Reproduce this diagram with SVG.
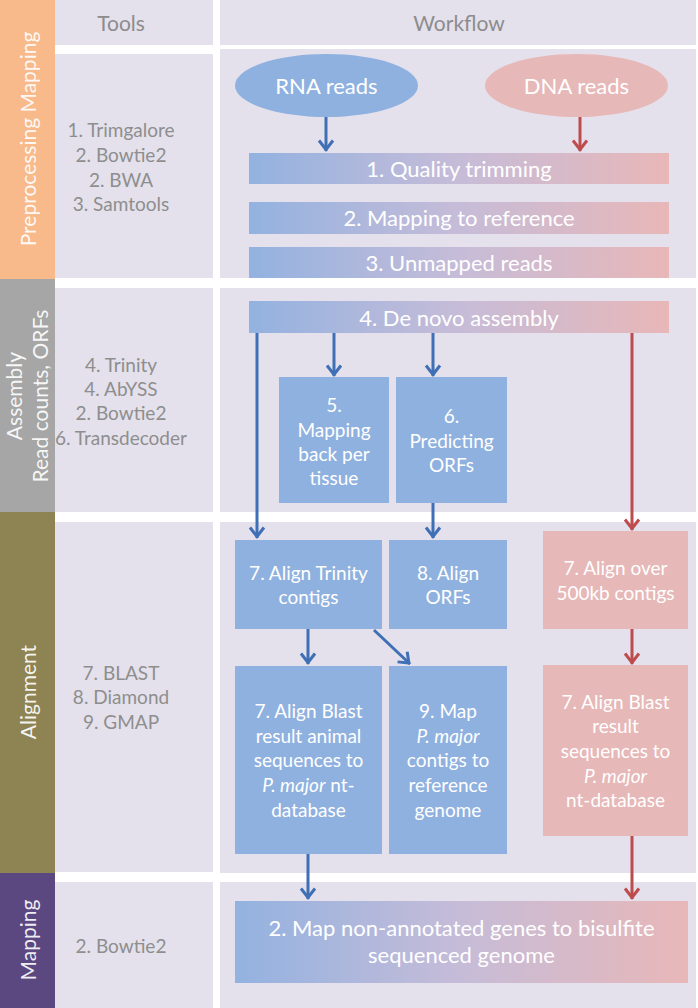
<svg xmlns="http://www.w3.org/2000/svg" width="698" height="1008" viewBox="0 0 698 1008">
<defs>
<style>
text{font-family:Lato,"Liberation Sans",sans-serif;}
.cell{fill:#E4E1EC;}
.hdr{font-size:21px;fill:#8C8C8C;text-anchor:middle;}
.tool{font-size:19px;fill:#8E8E8E;text-anchor:middle;}
.band{font-size:21px;fill:#FFFFFF;fill-opacity:0.92;text-anchor:middle;}
.wt{fill:#FFFFFF;text-anchor:middle;}
.big{font-size:22px;}
.box{font-size:19px;}
.blue{fill:#8FB1DF;}
.pink{fill:#E7B8B8;}
.ab{stroke:#3F6FB4;stroke-width:3;fill:none;marker-end:url(#mb);}
.ar{stroke:#BE4C4C;stroke-width:3;fill:none;marker-end:url(#mr);}
</style>
<linearGradient id="grad" x1="0" y1="0" x2="1" y2="0">
<stop offset="0" stop-color="#93B2E0"/>
<stop offset="0.5" stop-color="#C6BCD8"/>
<stop offset="1" stop-color="#E8B7B8"/>
</linearGradient>
<marker id="mb" viewBox="-12 -9 14 18" refX="1.5" refY="0" markerWidth="14" markerHeight="18" markerUnits="userSpaceOnUse" orient="auto">
<path d="M-9,-7 L0,0 L-9,7" fill="none" stroke="#3F6FB4" stroke-width="3"/>
</marker>
<marker id="mr" viewBox="-12 -9 14 18" refX="1.5" refY="0" markerWidth="14" markerHeight="18" markerUnits="userSpaceOnUse" orient="auto">
<path d="M-9,-7 L0,0 L-9,7" fill="none" stroke="#BE4C4C" stroke-width="3"/>
</marker>
</defs>
<rect x="0" y="0" width="698" height="1008" fill="#FFFFFF"/>

<g id="grid">
<rect class="cell" x="55" y="0" width="158" height="45"/>
<rect class="cell" x="220" y="0" width="476" height="45"/>
<rect class="cell" x="55" y="54" width="158" height="224"/>
<rect class="cell" x="220" y="49" width="476" height="229"/>
<rect class="cell" x="55" y="288" width="158" height="224"/>
<rect class="cell" x="220" y="288" width="476" height="224"/>
<rect class="cell" x="55" y="522" width="158" height="350"/>
<rect class="cell" x="220" y="522" width="476" height="351"/>
<rect class="cell" x="55" y="882" width="158" height="126"/>
<rect class="cell" x="220" y="882" width="476" height="126"/>
<text class="hdr" x="121" y="31">Tools</text>
<text class="hdr" x="459" y="31">Workflow</text>
</g>

<g id="band-preprocessing">
<rect x="0" y="0" width="55" height="279" fill="#F8B98B"/>
<text class="band" transform="translate(36,139) rotate(-90)">Preprocessing Mapping</text>
</g>
<g id="band-assembly">
<rect x="0" y="279" width="55" height="233" fill="#A6A6A6"/>
<text class="band" transform="translate(21.5,396) rotate(-90)">Assembly</text>
<text class="band" transform="translate(48,396) rotate(-90)">Read counts, ORFs</text>
</g>
<g id="band-alignment">
<rect x="0" y="512" width="55" height="361" fill="#8D8353"/>
<text class="band" transform="translate(36,692) rotate(-90)">Alignment</text>
</g>
<g id="band-mapping">
<rect x="0" y="873" width="55" height="135" fill="#5C4881"/>
<text class="band" transform="translate(36,940) rotate(-90)">Mapping</text>
</g>

<g id="tools-1">
<text class="tool" x="121" y="137">1. Trimgalore</text>
<text class="tool" x="121" y="162">2. Bowtie2</text>
<text class="tool" x="121" y="187">2. BWA</text>
<text class="tool" x="121" y="211">3. Samtools</text>
</g>
<g id="tools-2">
<text class="tool" x="121" y="372">4. Trinity</text>
<text class="tool" x="121" y="396">4. AbYSS</text>
<text class="tool" x="121" y="420">2. Bowtie2</text>
<text class="tool" x="121" y="445">6. Transdecoder</text>
</g>
<g id="tools-3">
<text class="tool" x="121" y="680">7. BLAST</text>
<text class="tool" x="121" y="704">8. Diamond</text>
<text class="tool" x="121" y="729">9. GMAP</text>
</g>
<g id="tools-4">
<text class="tool" x="121" y="953">2. Bowtie2</text>
</g>

<g id="connectors">
<path class="ab" d="M326,117 V151"/>
<path class="ar" d="M580,117 V151"/>
<path class="ab" d="M257,333 V538"/>
<path class="ab" d="M334,333 V376"/>
<path class="ab" d="M433,333 V376"/>
<path class="ar" d="M632,333 V530"/>
<path class="ab" d="M433,503 V538"/>
<path class="ab" d="M308,629 V664"/>
<path class="ab" d="M374,630 L410,664"/>
<path class="ar" d="M632,629 V664"/>
<path class="ab" d="M308,854 V899"/>
<path class="ar" d="M632,836 V899"/>
</g>

<g id="rna-reads">
<ellipse cx="326.5" cy="85.5" rx="91.5" ry="31.5" class="blue"/>
<text class="wt big" x="326.5" y="94">RNA reads</text>
</g>
<g id="dna-reads">
<ellipse cx="576.5" cy="85.5" rx="91.5" ry="31.5" class="pink"/>
<text class="wt big" x="576.5" y="94">DNA reads</text>
</g>

<g id="quality-trimming">
<rect x="249" y="153" width="420" height="31" fill="url(#grad)"/>
<text class="wt big" x="459" y="177">1. Quality trimming</text>
</g>
<g id="mapping-reference">
<rect x="249" y="202" width="420" height="32" fill="url(#grad)"/>
<text class="wt big" x="459" y="226">2. Mapping to reference</text>
</g>
<g id="unmapped-reads">
<rect x="249" y="247" width="420" height="31" fill="url(#grad)"/>
<text class="wt big" x="459" y="271">3. Unmapped reads</text>
</g>
<g id="de-novo">
<rect x="249" y="301" width="420" height="32" fill="url(#grad)"/>
<text class="wt big" x="459" y="326">4. De novo assembly</text>
</g>

<g id="mapping-back">
<rect x="279" y="377" width="110" height="126" class="blue"/>
<text class="wt box" x="334" y="412">5.</text>
<text class="wt box" x="334" y="437">Mapping</text>
<text class="wt box" x="334" y="461">back per</text>
<text class="wt box" x="334" y="485">tissue</text>
</g>
<g id="predicting-orfs">
<rect x="396" y="377" width="111" height="126" class="blue"/>
<text class="wt box" x="451.5" y="423">6.</text>
<text class="wt box" x="451.5" y="448">Predicting</text>
<text class="wt box" x="451.5" y="472">ORFs</text>
</g>

<g id="align-trinity">
<rect x="235" y="540" width="147" height="89" class="blue"/>
<text class="wt box" x="308.5" y="580">7. Align Trinity</text>
<text class="wt box" x="308.5" y="604">contigs</text>
</g>
<g id="align-orfs">
<rect x="389" y="540" width="118" height="89" class="blue"/>
<text class="wt box" x="448" y="580">8. Align</text>
<text class="wt box" x="448" y="604">ORFs</text>
</g>
<g id="align-500kb">
<rect x="543" y="531" width="145" height="98" class="pink"/>
<text class="wt box" x="615.5" y="575">7. Align over</text>
<text class="wt box" x="615.5" y="600">500kb contigs</text>
</g>

<g id="align-blast-animal">
<rect x="235" y="666" width="147" height="188" class="blue"/>
<text class="wt box" x="308.5" y="718">7. Align Blast</text>
<text class="wt box" x="308.5" y="743">result animal</text>
<text class="wt box" x="308.5" y="767">sequences to</text>
<text class="wt box" x="308.5" y="792"><tspan font-style="italic">P. major</tspan> nt-</text>
<text class="wt box" x="308.5" y="817">database</text>
</g>
<g id="map-pmajor">
<rect x="389" y="666" width="118" height="188" class="blue"/>
<text class="wt box" x="448" y="718">9. Map</text>
<text class="wt box" x="448" y="743" font-style="italic">P. major</text>
<text class="wt box" x="448" y="767">contigs to</text>
<text class="wt box" x="448" y="792">reference</text>
<text class="wt box" x="448" y="817">genome</text>
</g>
<g id="align-blast-dna">
<rect x="543" y="665" width="145" height="171" class="pink"/>
<text class="wt box" x="615.5" y="709">7. Align Blast</text>
<text class="wt box" x="615.5" y="733">result</text>
<text class="wt box" x="615.5" y="758">sequences to</text>
<text class="wt box" x="615.5" y="783" font-style="italic">P. major</text>
<text class="wt box" x="615.5" y="807">nt-database</text>
</g>

<g id="map-bisulfite">
<rect x="235" y="901" width="453" height="82" fill="url(#grad)"/>
<text class="wt big" x="461.5" y="936">2. Map non-annotated genes to bisulfite</text>
<text class="wt big" x="461.5" y="963">sequenced genome</text>
</g>
</svg>
